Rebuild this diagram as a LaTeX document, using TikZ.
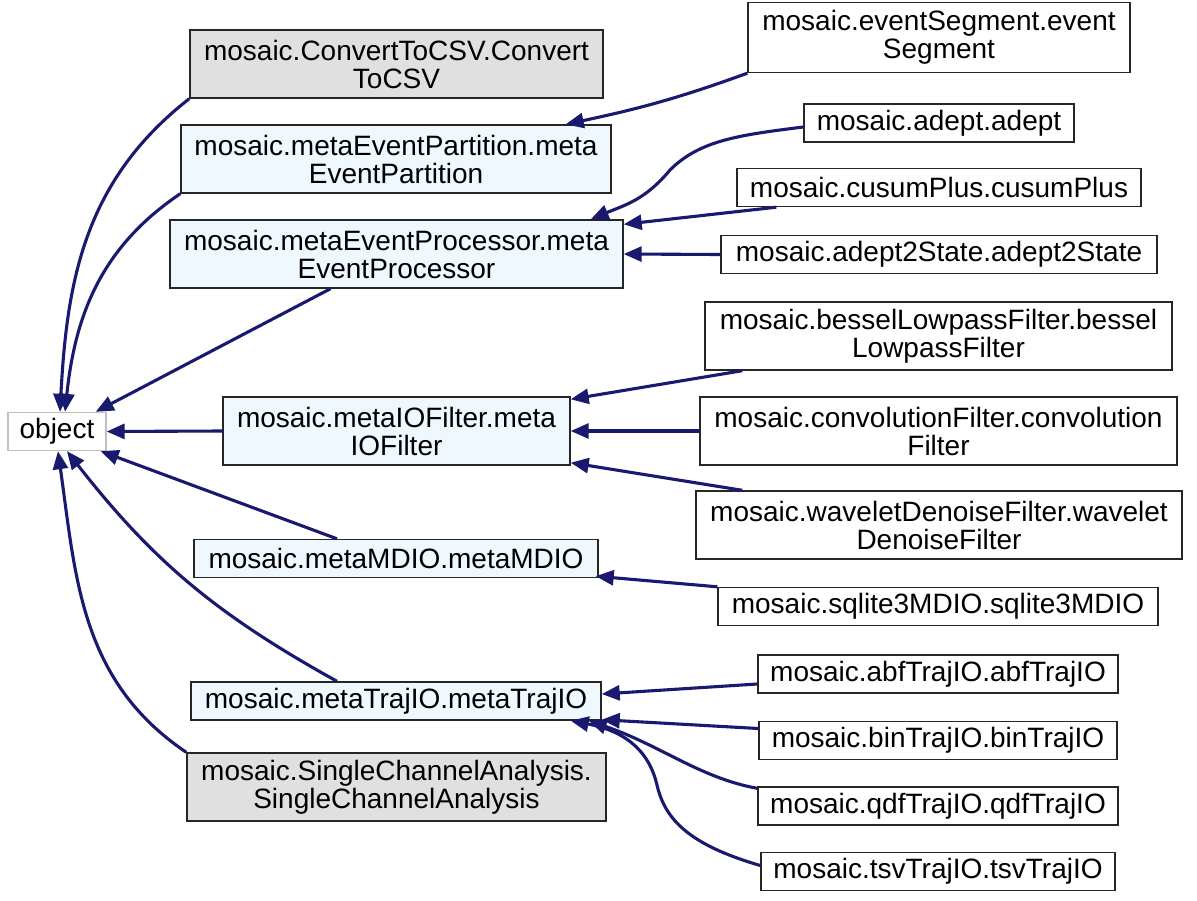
\documentclass[tikz,border=0pt]{standalone}
\usepackage{fontspec}
\setmainfont{Liberation Sans}
\usepackage{xcolor}
\usetikzlibrary{arrows.meta,positioning}
\definecolor{EdgeBlue}{RGB}{25,25,112}
\definecolor{BaseBlue}{HTML}{EFF7FF}
\definecolor{DocGrey}{HTML}{E0E0E0}
\definecolor{RootGrey}{HTML}{BFBFBF}

\tikzset{
  cls/.style={draw=black!85, line width=1.4pt, fill=white, align=center,
    inner sep=0pt, minimum height=38pt, font=\fontsize{28}{28}\selectfont},
  twoline/.style={minimum height=68pt},
  base/.style={cls, fill=BaseBlue},
  undoc/.style={cls, fill=DocGrey},
  inh/.style={draw=EdgeBlue, line width=3.1pt,
    -{Triangle[length=18pt,width=15pt]}}
}

\begin{document}
\begin{tikzpicture}[x=1pt,y=-1pt]
  \useasboundingbox[fill=white] (0,0) rectangle (1197,900);

  % root
  \node[cls, draw=RootGrey, minimum width=98pt] (obj) at (57,431.5) {object};

  % middle column
  \node[undoc, twoline, minimum width=413pt] (csv) at (396.5,64) {mosaic.ConvertToCSV.Convert\\ToCSV};
  \node[base, twoline, minimum width=430pt] (mep) at (396,159) {mosaic.metaEventPartition.meta\\EventPartition};
  \node[base, twoline, minimum width=453pt] (mepr) at (396.5,254) {mosaic.metaEventProcessor.meta\\EventProcessor};
  \node[base, twoline, minimum width=347pt] (mio) at (396.5,431) {mosaic.metaIOFilter.meta\\IOFilter};
  \node[base, minimum width=404pt] (mdio) at (396,558.5) {mosaic.metaMDIO.metaMDIO};
  \node[base, minimum width=410pt] (mtraj) at (396,701) {mosaic.metaTrajIO.metaTrajIO};
  \node[undoc, twoline, minimum width=419pt] (sca) at (396.5,787) {mosaic.SingleChannelAnalysis.\\SingleChannelAnalysis};

  % right column
  \node[cls, minimum height=70pt, minimum width=382pt] (evs) at (939,37.5) {mosaic.eventSegment.event\\Segment};
  \node[cls, minimum width=270pt] (adept) at (939,123) {mosaic.adept.adept};
  \node[cls, minimum width=404pt] (cusum) at (939,187.5) {mosaic.cusumPlus.cusumPlus};
  \node[cls, minimum width=436pt] (a2s) at (939,254.5) {mosaic.adept2State.adept2State};
  \node[cls, twoline, minimum width=467pt] (bessel) at (938.5,336) {mosaic.besselLowpassFilter.bessel\\LowpassFilter};
  \node[cls, twoline, minimum width=477pt] (conv) at (938.5,431) {mosaic.convolutionFilter.convolution\\Filter};
  \node[cls, twoline, minimum width=486pt] (wav) at (939,525) {mosaic.waveletDenoiseFilter.wavelet\\DenoiseFilter};
  \node[cls, minimum width=440pt] (sql) at (938,606.5) {mosaic.sqlite3MDIO.sqlite3MDIO};
  \node[cls, minimum width=360pt] (abf) at (938,674) {mosaic.abfTrajIO.abfTrajIO};
  \node[cls, minimum width=358pt] (bin) at (938,740.5) {mosaic.binTrajIO.binTrajIO};
  \node[cls, minimum width=360pt] (qdf) at (938,806) {mosaic.qdfTrajIO.qdfTrajIO};
  \node[cls, minimum width=354pt] (tsv) at (938,871.5) {mosaic.tsvTrajIO.tsvTrajIO};

  % edges to object
  \draw[inh] (csv.south west) to[out=218, in=87] ([xshift=3pt]obj.north);
  \draw[inh] (mep.south west) to[out=214, in=84] ([xshift=8pt]obj.north);
  \draw[inh] ([xshift=-66pt]mepr.south) -- ([xshift=-11pt]obj.north east);
  \draw[inh] (mio.west) -- (obj.east);
  \draw[inh] ([xshift=-59pt]mdio.north) -- ([xshift=-6pt]obj.south east);
  \draw[inh] ([xshift=-59pt]mtraj.north) to[out=151, in=-52] ([xshift=10pt]obj.south);
  \draw[inh] (sca.north west) to[out=146, in=-82] ([xshift=1pt]obj.south);

  % edges to the meta classes
  \draw[inh] (evs.south west) to[out=200, in=12] ([xshift=-46pt]mep.north east);
  \draw[inh] ([yshift=-4pt]adept.west) .. controls (740,135) and (700,140) .. (670,170)
    .. controls (645,200) and (625,205) .. ([xshift=-33pt]mepr.north east);
  \draw[inh] ([xshift=40pt]cusum.south west) -- ([yshift=-5pt]mepr.north east);
  \draw[inh] (a2s.west) -- (mepr.east);
  \draw[inh] ([xshift=38pt]bessel.south west) -- ([yshift=-3pt]mio.north east);
  \draw[inh] (conv.west) -- (mio.east);
  \draw[inh] ([xshift=47pt]wav.north west) -- ([yshift=3pt]mio.south east);
  \draw[inh] (sql.north west) -- ([xshift=-3pt,yshift=2pt]mdio.south east);
  \draw[inh] ([yshift=-10pt]abf.west) -- ([yshift=7pt]mtraj.east);
  \draw[inh] ([yshift=12pt]bin.west) -- ([yshift=1pt]mtraj.south east);
  \draw[inh] ([yshift=-2pt]qdf.north west) .. controls (700,778) and (660,745) .. ([xshift=-13pt]mtraj.south east);
  \draw[inh] ([yshift=6pt]tsv.west) .. controls (690,845) and (665,820) .. (657,785)
    .. controls (650,755) and (630,732) .. ([xshift=-31pt]mtraj.south east);
\end{tikzpicture}
\end{document}
